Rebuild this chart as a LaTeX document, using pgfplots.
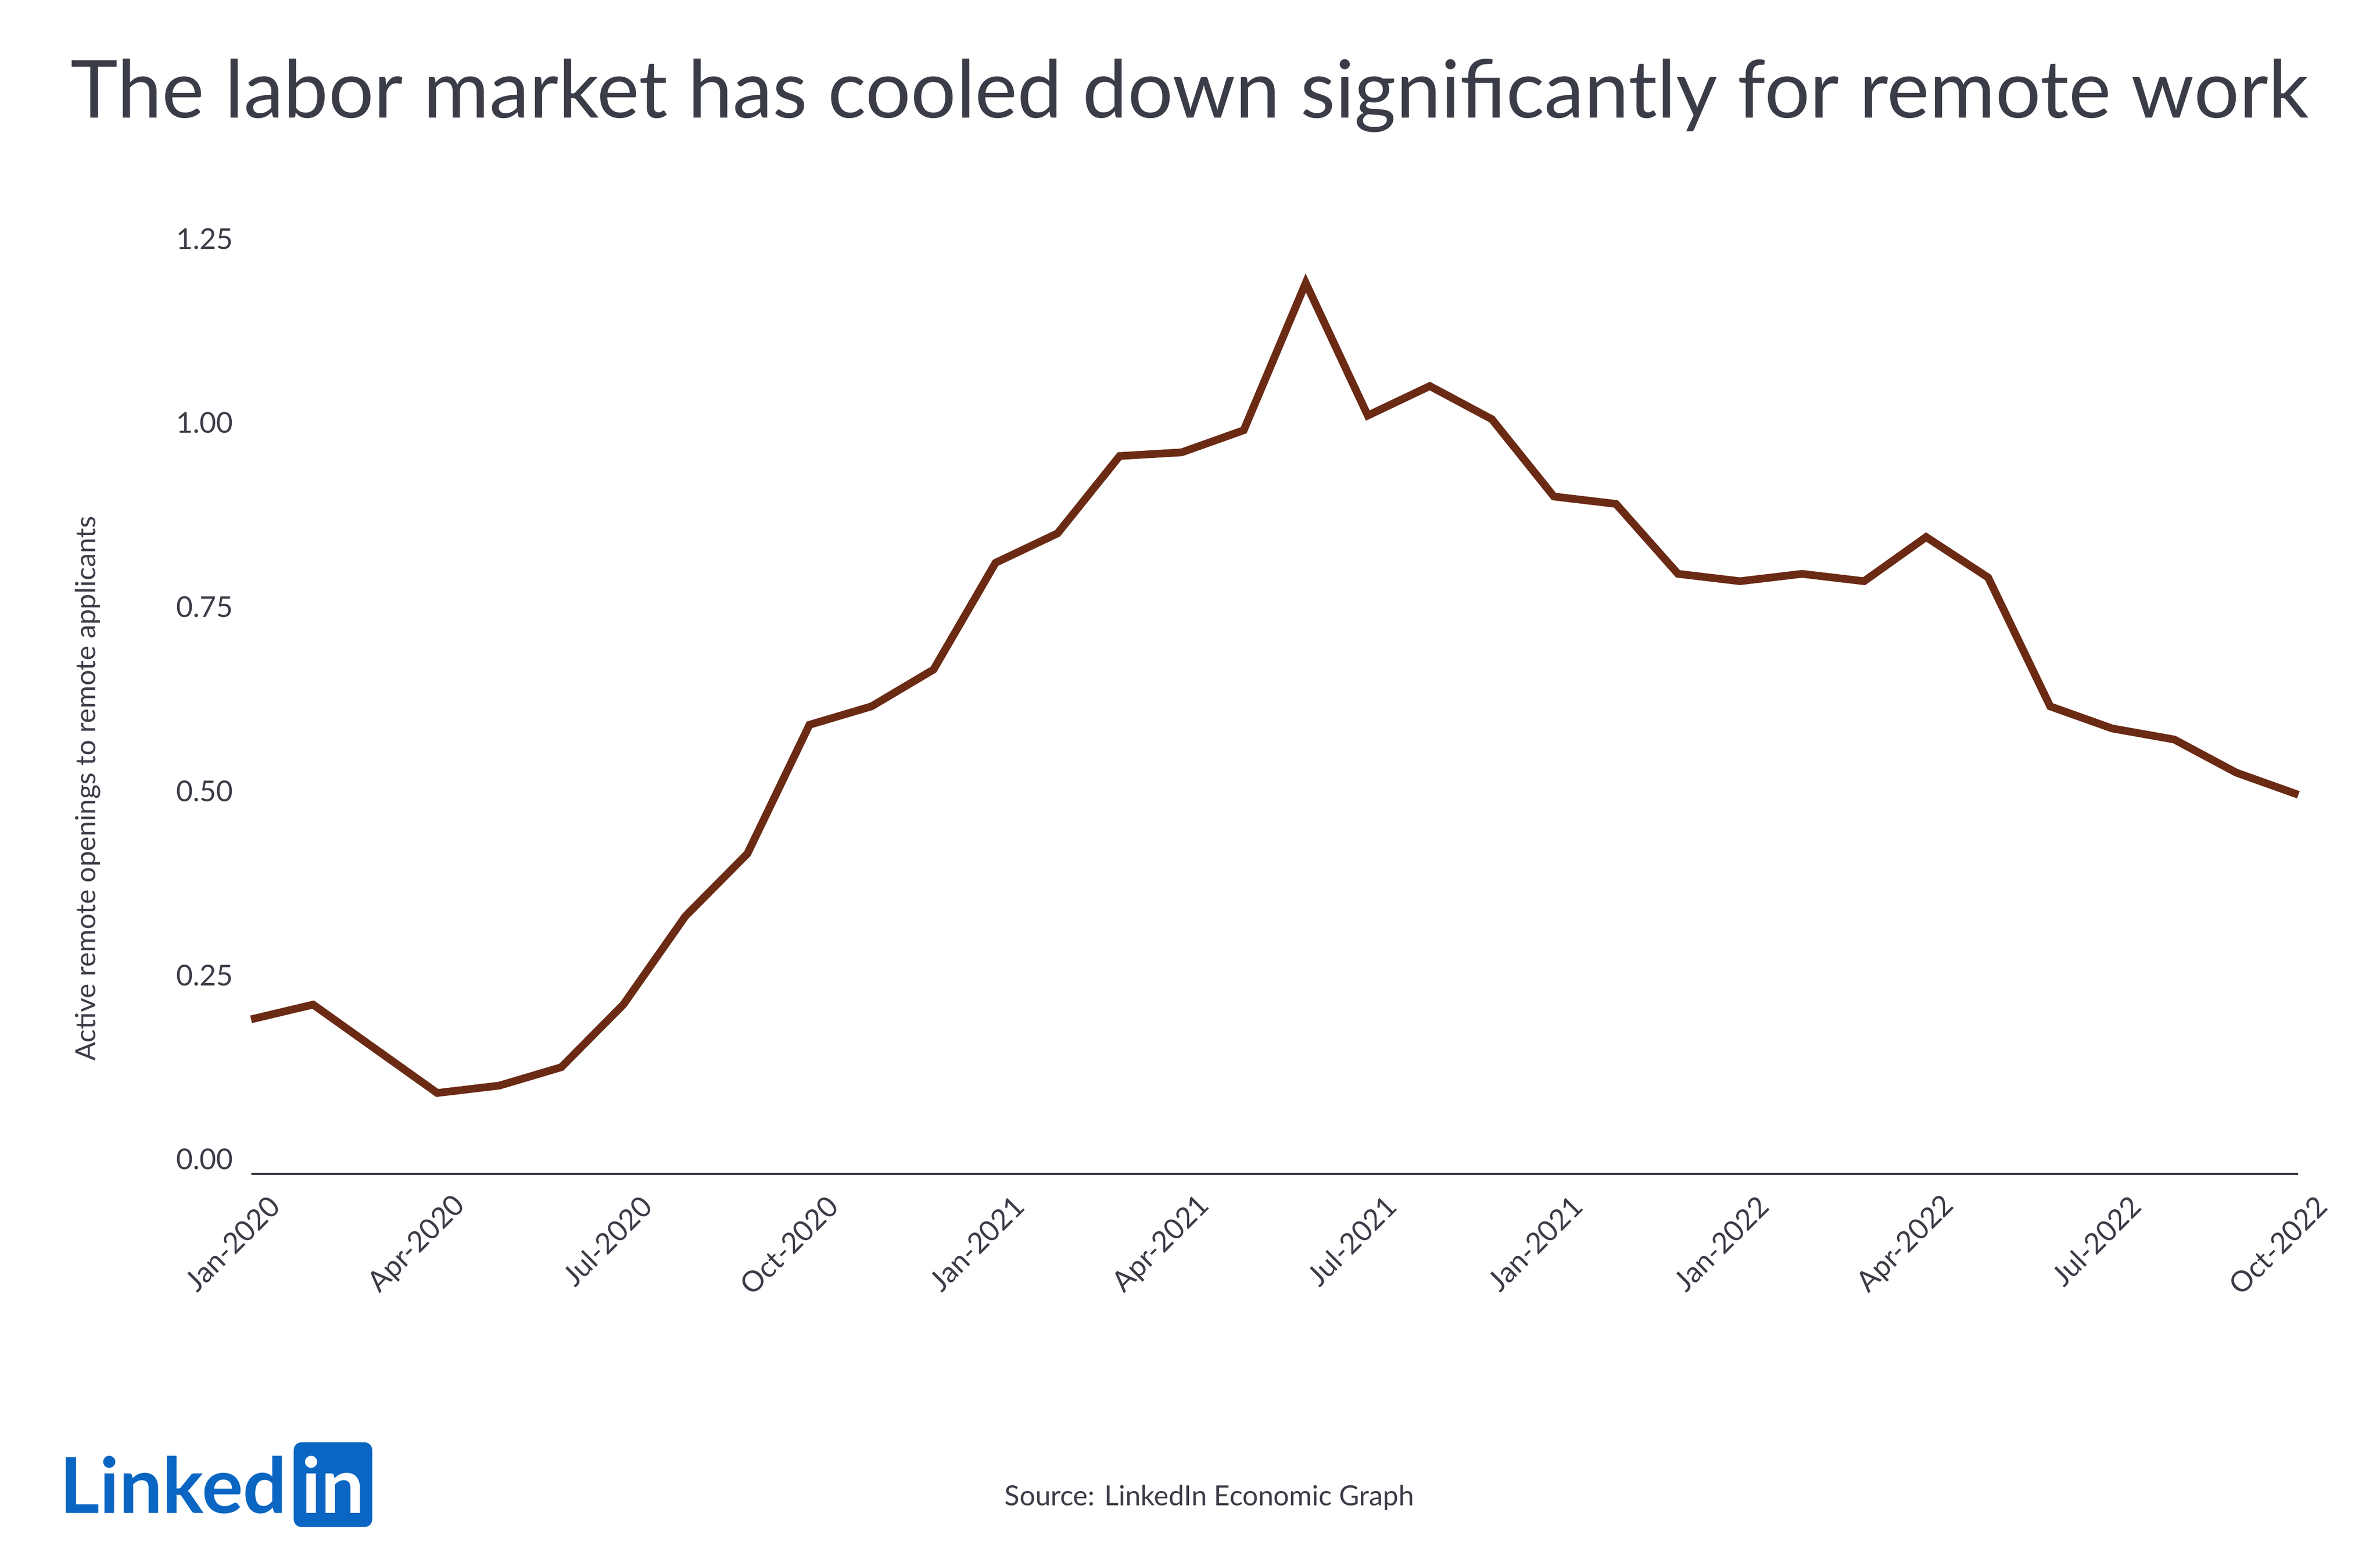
\documentclass[border=0pt]{standalone}
\usepackage{pgfplots}
\pgfplotsset{compat=1.18}
\usepackage{fontspec}
\setmainfont{Lato}
\definecolor{txt}{HTML}{3A3C47}
\definecolor{ln}{HTML}{6B2A14}
\definecolor{li}{HTML}{0A66C2}
\begin{document}
\begin{tikzpicture}[x=1pt,y=1pt]
\path[use as bounding box] (-48.9,-71.4) rectangle (414.6,228.6);
\begin{axis}[at={(0,0)},anchor=south west,scale only axis,
 width=398.7pt,height=182.1pt,
 xmin=0,xmax=33,ymin=-0.02,ymax=1.25,
 axis x line=bottom, axis y line=left,
 y axis line style={draw=none},
 x axis line style={txt,line width=0.3pt,-},
 xtick={0,3,...,33},
 xticklabels={Jan-2020,Apr-2020,Jul-2020,Oct-2020,Jan-2021,Apr-2021,Jul-2021,Jan-2021,Jan-2022,Apr-2022,Jul-2022,Oct-2022},
 x tick label style={rotate=45,anchor=east,font=\fontsize{5.6}{6}\selectfont,text=txt,xshift=3pt,yshift=-7pt},
 ytick={0,0.25,0.5,0.75,1,1.25},
 yticklabel style={font=\fontsize{5.6}{6}\selectfont,text=txt,/pgf/number format/fixed,/pgf/number format/fixed zerofill,/pgf/number format/precision=2,/pgf/number format/assume math mode=true},
 major tick length=0pt,
 clip=false]
\addplot[ln,line width=1.5pt] coordinates {
(0,0.19)(1,0.21)(2,0.15)(3,0.09)(4,0.10)(5,0.125)(6,0.21)(7,0.33)(8,0.415)(9,0.59)
(10,0.615)(11,0.665)(12,0.81)(13,0.85)(14,0.955)(15,0.96)(16,0.99)(17,1.19)(18,1.01)(19,1.05)
(20,1.005)(21,0.90)(22,0.89)(23,0.795)(24,0.785)(25,0.795)(26,0.785)(27,0.845)(28,0.79)(29,0.615)
(30,0.585)(31,0.57)(32,0.525)(33,0.495)};
\end{axis}
\node[font=\fontsize{15.6}{18}\selectfont,text=txt] at (182.8,210) {The labor market has cooled down significantly for remote work};
\node[rotate=90,font=\fontsize{5.4}{6}\selectfont,text=txt] at (-31.8,75) {Active remote openings to remote applicants};
\node[font=\fontsize{5.4}{6}\selectfont,text=txt] at (186.6,-63) {Source: LinkedIn Economic Graph};
\node[anchor=west,font=\bfseries\fontsize{15}{16}\selectfont,text=li,inner sep=0] (lk) at (-37.5,-60.5) {Linked};
\node[anchor=west,fill=li,rounded corners=1.5pt,text=white,font=\bfseries\fontsize{15}{16}\selectfont,inner sep=1.5pt,minimum height=16.5pt] at ([xshift=1pt]lk.east) {in};
\end{tikzpicture}
\end{document}
